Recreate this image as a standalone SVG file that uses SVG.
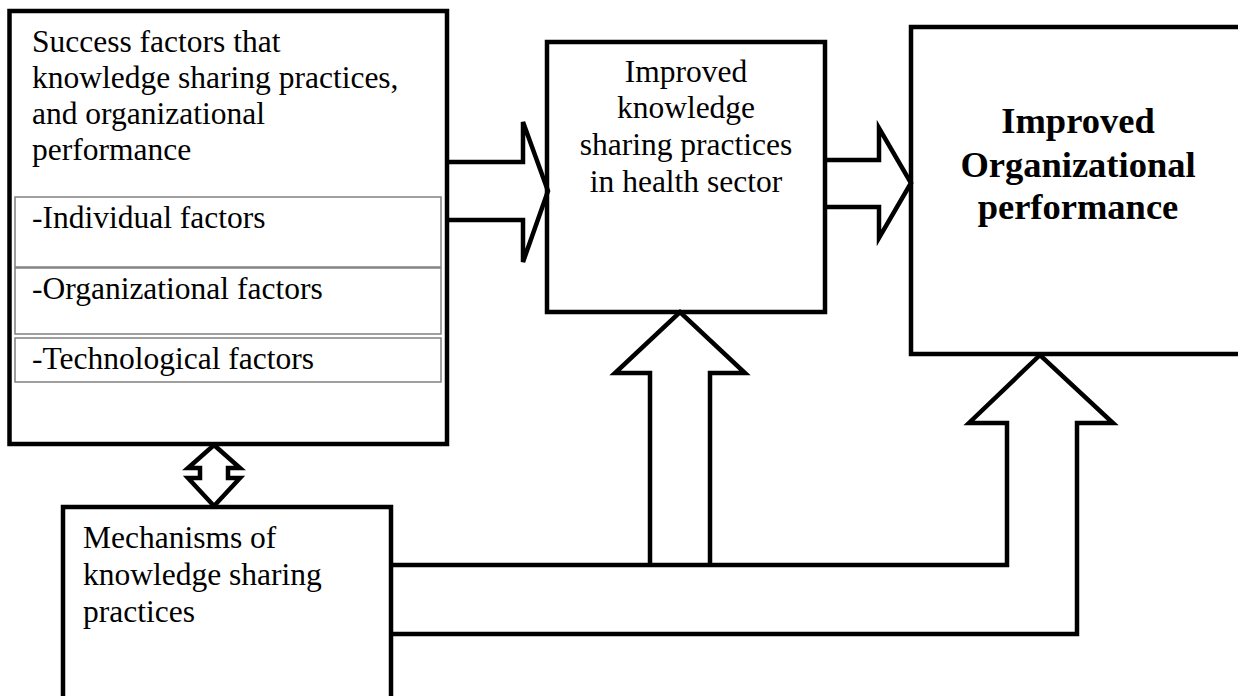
<svg xmlns="http://www.w3.org/2000/svg" width="1238" height="696" viewBox="0 0 1238 696">
<style>
.box{fill:#fff;stroke:#000;stroke-width:4.5}
.sub{fill:none;stroke:#808080;stroke-width:1.5}
.arr{fill:none;stroke:#000;stroke-width:4.5;stroke-linejoin:miter}
.ln{fill:none;stroke:#000;stroke-width:4.5;stroke-linejoin:miter}
.t{font-family:"Liberation Serif","Times New Roman",serif;font-size:31.5px;fill:#000}
.b{font-family:"Liberation Serif","Times New Roman",serif;font-size:36.5px;font-weight:bold;fill:#000}
</style>
<rect width="1238" height="696" fill="#fff"/>
<g id="success-factors">
<rect class="box" x="9.5" y="11" width="437.5" height="433"/>
<text class="t" x="32" y="52">Success factors that</text>
<text class="t" x="32" y="88">knowledge sharing practices,</text>
<text class="t" x="32" y="124">and organizational</text>
<text class="t" x="32" y="160">performance</text>
<rect class="sub" x="15" y="197" width="426" height="70"/>
<text class="t" x="32" y="228">-Individual factors</text>
<rect class="sub" x="15" y="268" width="426" height="66"/>
<text class="t" x="32" y="299">-Organizational factors</text>
<rect class="sub" x="15" y="338" width="426" height="44"/>
<text class="t" x="32" y="369">-Technological factors</text>
</g>
<g id="improved-ksp">
<rect class="box" x="547" y="42" width="278" height="270"/>
<text class="t" x="686" y="82" text-anchor="middle">Improved</text>
<text class="t" x="686" y="118" text-anchor="middle">knowledge</text>
<text class="t" x="686" y="155" text-anchor="middle">sharing practices</text>
<text class="t" x="686" y="192" text-anchor="middle">in health sector</text>
</g>
<g id="improved-performance">
<rect class="box" x="911" y="27" width="335" height="327"/>
<text class="b" x="1078" y="133" text-anchor="middle">Improved</text>
<text class="b" x="1078" y="177" text-anchor="middle">Organizational</text>
<text class="b" x="1078" y="219" text-anchor="middle">performance</text>
</g>
<g id="mechanisms">
<rect class="box" x="63" y="507" width="328" height="200"/>
<text class="t" x="83" y="548">Mechanisms of</text>
<text class="t" x="83" y="585">knowledge sharing</text>
<text class="t" x="83" y="622">practices</text>
</g>
<g id="connectors">
<path class="arr" d="M447 162 H523 V122 L548 191 L523 262 V220 H447"/>
<path class="arr" d="M825 160 H879 V128 L911 183 L879 238 V207 H825"/>
<path class="arr" d="M214 445 L240 468 H228 V478 H240 L214 506 L188 478 H200 V468 H188 Z"/>
<path class="ln" d="M391 565 H1007 V423 H969 L1040 355 L1113 423 H1077 V634 H391"/>
<path class="arr" d="M650 565 V373 H615 L680 312 L745 373 H710 V565"/>
</g>
</svg>
